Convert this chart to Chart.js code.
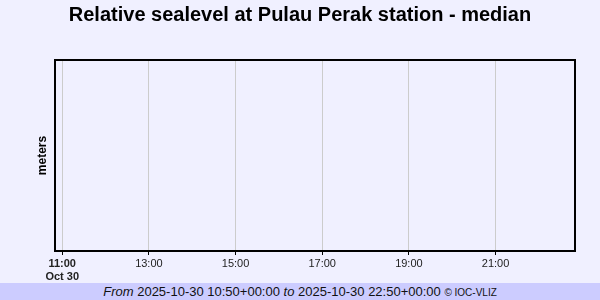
<!DOCTYPE html>
<html>
<head>
<meta charset="utf-8">
<script src="https://cdn.jsdelivr.net/npm/chart.js@4.4.0/dist/chart.umd.min.js"></script>
<style>
  html, body { margin: 0; padding: 0; background: #F0F0FF; }
  #wrap { position: relative; width: 600px; height: 283px; }
  #footer { width: 600px; height: 17px; background: #CCCCFF; text-align: center;
    font-family: "Liberation Sans", Arial, sans-serif; font-size: 13px; line-height: 17px; color: #111; }
  #footer i { font-style: italic; }
  #footer small { font-size: 10px; }
</style>
</head>
<body>
<div id="wrap"><canvas id="c" width="600" height="283"></canvas></div>
<div id="footer"><i>From</i> 2025-10-30 10:50+00:00 <i>to</i> 2025-10-30 22:50+00:00 <small>© IOC-VLIZ</small></div>
<script>
// Data (hours of day, 2025-10-30)
const rangeStart = 10 + 50 / 60;
const rangeEnd = 22 + 50 / 60;
const tickHours = [11, 13, 15, 17, 19, 21];
const tickLabels = ['11:00', '13:00', '15:00', '17:00', '19:00', '21:00'];
const dateLabel = 'Oct 30';
const seriesTimes = [];   // no data shown
const seriesValues = [];

const frame = {
  id: 'frame',
  afterDatasetsDraw(chart) {
    const a = chart.chartArea, ctx = chart.ctx;
    ctx.save();
    ctx.strokeStyle = '#000';
    ctx.lineWidth = 2;
    ctx.strokeRect(a.left, a.top, a.right - a.left, a.bottom - a.top);
    ctx.restore();
  }
};

new Chart(document.getElementById('c'), {
  type: 'line',
  data: {
    datasets: [{
      data: seriesTimes.map((t, i) => ({ x: t, y: seriesValues[i] })),
      borderColor: '#0000ff', pointRadius: 0
    }]
  },
  options: {
    responsive: false,
    animation: false,
    layout: { padding: 0 },
    plugins: {
      legend: { display: false },
      tooltip: { enabled: false },
      title: {
        display: true,
        text: 'Relative sealevel at Pulau Perak station - median',
        color: '#000',
        font: { family: '"Liberation Sans", Arial, sans-serif', size: 20, weight: 'bold' },
        padding: { top: 3, bottom: 33 }
      }
    },
    scales: {
      x: {
        type: 'linear',
        min: rangeStart,
        max: rangeEnd,
        afterBuildTicks(scale) { scale.ticks = tickHours.map(v => ({ value: v })); },
        afterFit(scale) { scale.height = 32; },
        border: { display: false },
        grid: { color: '#cccccc', lineWidth: 1, tickLength: 4, tickColor: '#000' },
        ticks: {
          autoSkip: false,
          maxRotation: 0,
          padding: 2,
          color: '#222',
          font: (ctx) => ({ family: '"Liberation Sans", Arial, sans-serif', size: 11, weight: ctx.index === 0 ? 'bold' : 'normal', lineHeight: 1.2 }),
          callback: (v, i) => i === 0 ? [tickLabels[i], dateLabel] : tickLabels[i]
        }
      },
      y: {
        min: 0,
        max: 1,
        afterFit(scale) { scale.width = 55; },
        border: { display: false },
        grid: { display: false },
        ticks: { display: false },
        title: {
          display: true,
          text: 'meters',
          color: '#000',
          font: { family: '"Liberation Sans", Arial, sans-serif', size: 12, weight: 'bold' },
          padding: { top: 35, bottom: 0 }
        }
      },
      yRight: {
        position: 'right',
        min: 0,
        max: 1,
        afterFit(scale) { scale.width = 25; },
        border: { display: false },
        grid: { display: false },
        ticks: { display: false }
      }
    }
  },
  plugins: [frame]
});
</script>
</body>
</html>
